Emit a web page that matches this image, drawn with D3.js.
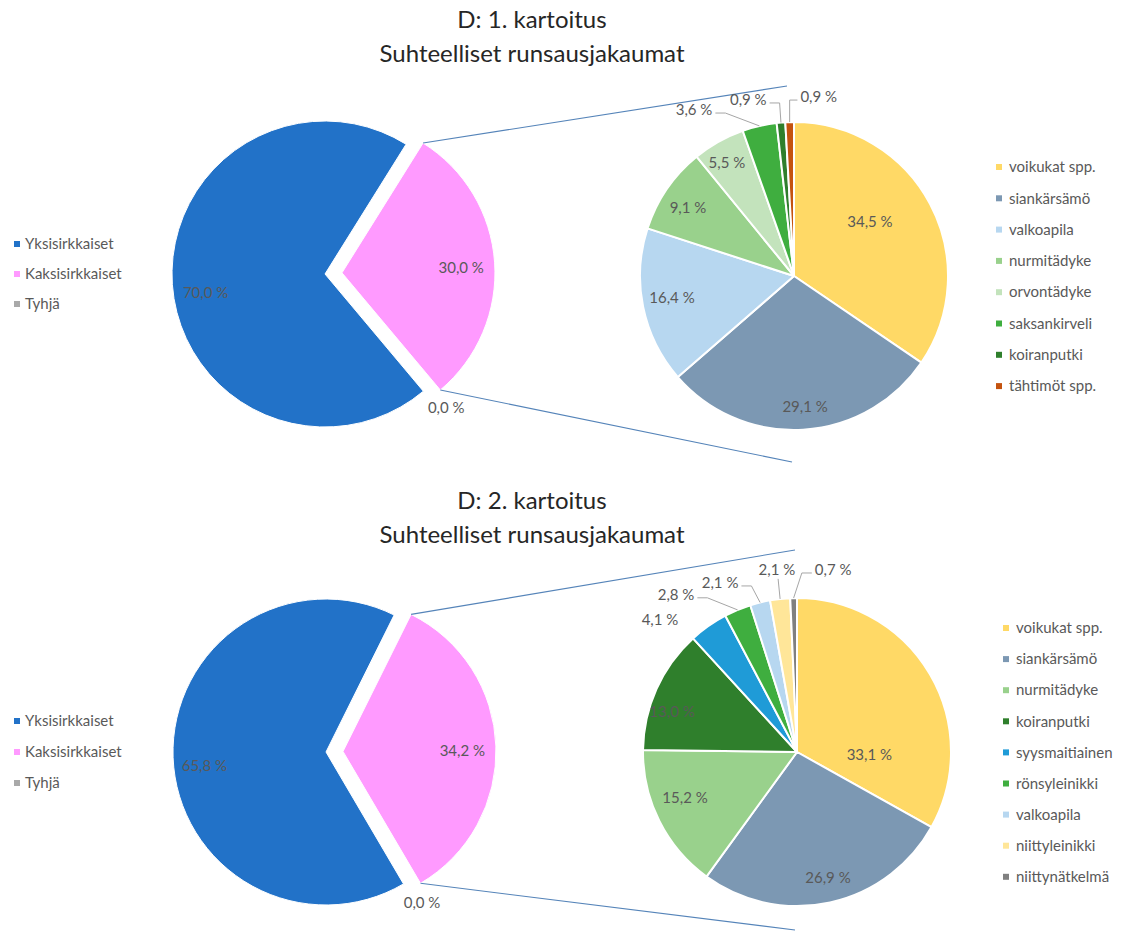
<!DOCTYPE html>
<html>
<head>
<meta charset="utf-8">
<script src="https://cdn.jsdelivr.net/npm/d3@7/dist/d3.min.js"></script>
<style>
  html, body { margin: 0; padding: 0; background: #fff; }
  svg { display: block; font-family: Lato, Carlito, "Open Sans", sans-serif; }
</style>
</head>
<body>
<svg id="chart" width="1128" height="932"></svg>
<script>
// ---- Data: D, 1. kartoitus ----
const groups1 = ["Yksisirkkaiset", "Kaksisirkkaiset", "Tyhjä"];
const groupShare1 = [70.0, 30.0, 0.0];
const species1 = ["voikukat spp.", "siankärsämö", "valkoapila", "nurmitädyke",
                  "orvontädyke", "saksankirveli", "koiranputki", "tähtimöt spp."];
const speciesShare1 = [34.5, 29.1, 16.4, 9.1, 5.5, 3.6, 0.9, 0.9];

// ---- Data: D, 2. kartoitus ----
const groups2 = ["Yksisirkkaiset", "Kaksisirkkaiset", "Tyhjä"];
const groupShare2 = [65.8, 34.2, 0.0];
const species2 = ["voikukat spp.", "siankärsämö", "nurmitädyke", "koiranputki",
                  "syysmaitiainen", "rönsyleinikki", "valkoapila", "niittyleinikki", "niittynätkelmä"];
const speciesShare2 = [33.1, 26.9, 15.2, 13.0, 4.1, 2.8, 2.1, 2.1, 0.7];

const titleLines = ["Suhteelliset runsausjakaumat"];

// ---- Colours ----
const groupColor = {
  "Yksisirkkaiset": "#2272c8",
  "Kaksisirkkaiset": "#ff9aff",
  "Tyhjä": "#a9a9a9"
};
const speciesColor = {
  "voikukat spp.": "#ffd966",
  "siankärsämö": "#7c98b3",
  "valkoapila": "#b7d7f0",
  "nurmitädyke": "#99d18c",
  "orvontädyke": "#c3e3bc",
  "saksankirveli": "#3fae3f",
  "koiranputki": "#2f7f2c",
  "tähtimöt spp.": "#c4530f",
  "syysmaitiainen": "#1f9bd7",
  "rönsyleinikki": "#3fae3f",
  "niittyleinikki": "#ffe699",
  "niittynätkelmä": "#808080"
};

const TEXT = "#595959";
const FS = 15;
const deg = Math.PI / 180;
const fmt = v => v.toFixed(1).replace(".", ",") + " %";

// Label placement per slice: radius factor and angular shift (degrees) from the slice middle
const panels = [
  {
    title: "D: 1. kartoitus", titleY: 20,
    groups: groups1, groupShare: groupShare1,
    species: species1, speciesShare: speciesShare1,
    main: { cx: 325, cy: 274, r: 153, bisector: 86, explode: 17,
            label: { "Yksisirkkaiset": [0.79, -5], "Kaksisirkkaiset": [0.78, 1.6], "Tyhjä": [1.18, -2.2] } },
    sub: { cx: 794, cy: 276, r: 154,
           label: [[0.605, -7.5], [0.854, -1.4], [0.805, 1.3], [0.818, -1.7], [0.853, -1.4],
                   [1.258, -18.1], [1.181, -9.7], [1.173, 9.5]],
           leader: [false, false, false, false, false, true, true, true] },
    connTop: [-7, -190], connBottom: [-2, 186],
    legendMain: { x: 17, y: 244, step: 30 },
    legendSub: { x: 999, y: 167, step: 31.3 }
  },
  {
    title: "D: 2. kartoitus", titleY: 501,
    groups: groups2, groupShare: groupShare2,
    species: species2, speciesShare: speciesShare2,
    main: { cx: 326, cy: 752, r: 153, bisector: 88, explode: 17,
            label: { "Yksisirkkaiset": [0.8, -4.6], "Kaksisirkkaiset": [0.78, 1.5], "Tyhjä": [1.17, -2] } },
    sub: { cx: 797, cy: 752, r: 154,
           label: [[0.47, 32.8], [0.843, -1.4], [0.786, 4.3], [0.852, -6.4], [1.235, -11],
                   [1.288, -14.9], [1.206, -10.6], [1.19, 0], [1.205, 12.5]],
           leader: [false, false, false, false, false, true, true, true, true] },
    connTop: [-2, -202], connBottom: [-2, 178],
    legendMain: { x: 17, y: 721, step: 31 },
    legendSub: { x: 1006, y: 628, step: 31.1 }
  }
];

const svg = d3.select("#chart");
const polar = (a, r) => [Math.sin(a * deg) * r, -Math.cos(a * deg) * r];

function drawPanel(p) {
  const g = svg.append("g");

  // Title
  g.append("text").attr("x", 532).attr("y", p.titleY).attr("dy", "0.35em")
    .attr("text-anchor", "middle").attr("font-size", 24).attr("fill", "#262626")
    .text(p.title);
  g.append("text").attr("x", 532).attr("y", p.titleY + 34).attr("dy", "0.35em")
    .attr("text-anchor", "middle").attr("font-size", 24).attr("fill", "#262626")
    .text(titleLines[0]);

  // ---- Primary pie: split slice (Kaksisirkkaiset) faces the secondary pie ----
  const m = p.main;
  const splitIdx = 1;
  const splitDeg = p.groupShare[splitIdx] * 3.6;
  const startDeg = m.bisector - splitDeg / 2;
  const order = [1, 2, 0];
  const mainPie = d3.pie().sort((a, b) => order.indexOf(a.i) - order.indexOf(b.i))
    .value(d => d.v).startAngle(startDeg * deg).endAngle((startDeg + 360) * deg);
  const mainData = mainPie(p.groups.map((name, i) => ({ name, i, v: p.groupShare[i] })));
  const mainArc = d3.arc().innerRadius(0).outerRadius(m.r);

  const offset = polar(m.bisector, m.explode);
  const centerOf = d => d.data.i === splitIdx ? [m.cx + offset[0], m.cy + offset[1]] : [m.cx, m.cy];

  g.append("g").selectAll("path").data(mainData.filter(d => d.data.v > 0)).join("path")
    .attr("transform", d => `translate(${centerOf(d)})`)
    .attr("d", mainArc)
    .attr("fill", d => groupColor[d.data.name])
    .attr("stroke", "#fff").attr("stroke-width", 1);

  mainData.forEach(d => {
    const mid = (d.startAngle + d.endAngle) / 2 / deg;
    const [k, shift] = m.label[d.data.name];
    const c = centerOf(d);
    const [dx, dy] = polar(mid + shift, k * m.r);
    g.append("text").attr("x", c[0] + dx).attr("y", c[1] + dy).attr("dy", "0.35em")
      .attr("text-anchor", "middle").attr("font-size", FS)
      .attr("fill", TEXT)
      .text(fmt(d.data.v));
  });

  // ---- Connector lines from the split slice to the secondary pie ----
  const s = p.sub;
  const split = mainData.find(d => d.data.i === splitIdx);
  const sc = centerOf(split);
  const cTop = polar(split.startAngle / deg, m.r);
  const cBot = polar(split.endAngle / deg, m.r);
  const conn = [
    [[sc[0] + cTop[0], sc[1] + cTop[1]], [s.cx + p.connTop[0], s.cy + p.connTop[1]]],
    [[sc[0] + cBot[0], sc[1] + cBot[1]], [s.cx + p.connBottom[0], s.cy + p.connBottom[1]]]
  ];
  g.append("g").selectAll("line").data(conn).join("line")
    .attr("x1", d => d[0][0]).attr("y1", d => d[0][1])
    .attr("x2", d => d[1][0]).attr("y2", d => d[1][1])
    .attr("stroke", "#5584b9").attr("stroke-width", 1.1);

  // ---- Secondary pie: species composition ----
  const subPie = d3.pie().sort(null).value(d => d.v);
  const subData = subPie(p.species.map((name, i) => ({ name, i, v: p.speciesShare[i] })));
  const subArc = d3.arc().innerRadius(0).outerRadius(s.r);

  g.append("g").attr("transform", `translate(${s.cx},${s.cy})`)
    .selectAll("path").data(subData).join("path")
    .attr("d", subArc)
    .attr("fill", d => speciesColor[d.data.name])
    .attr("stroke", "#fff").attr("stroke-width", 2).attr("stroke-linejoin", "round");

  const labelG = g.append("g").attr("transform", `translate(${s.cx},${s.cy})`);
  const leaderG = labelG.append("g");
  subData.forEach((d, i) => {
    const mid = (d.startAngle + d.endAngle) / 2 / deg;
    const [k, shift] = s.label[i];
    const [tx, ty] = polar(mid + shift, k * s.r);
    const t = labelG.append("text").attr("x", tx).attr("y", ty).attr("dy", "0.35em")
      .attr("text-anchor", "middle").attr("font-size", FS)
      .attr("fill", TEXT)
      .text(fmt(d.data.v));
    if (s.leader[i]) {
      const w = t.node().getComputedTextLength();
      const left = tx - w / 2, right = tx + w / 2;
      const edge = polar(mid, s.r);
      let pts;
      if (edge[0] > right + 2) {
        const ax = right + 3, ay = ty + 3;
        pts = [[ax, ay], [ax + Math.min(10, edge[0] - ax), ay], edge];
      } else if (edge[0] < left - 2) {
        const ax = left - 3, ay = ty + 3;
        pts = [[ax, ay], [ax - Math.min(10, ax - edge[0]), ay], edge];
      } else {
        pts = [[edge[0] - 2, ty + 9], edge];
      }
      leaderG.append("path").attr("d", d3.line()(pts))
        .attr("fill", "none").attr("stroke", "#a6a6a6").attr("stroke-width", 1);
    }
  });

  // ---- Legends ----
  const lm = p.legendMain;
  const lgm = g.append("g").selectAll("g").data(p.groups).join("g")
    .attr("transform", (d, i) => `translate(${lm.x},${lm.y + i * lm.step})`);
  lgm.append("rect").attr("x", -3).attr("y", -3).attr("width", 6).attr("height", 6)
    .attr("fill", d => groupColor[d]);
  lgm.append("text").attr("x", 8).attr("dy", "0.35em").attr("font-size", FS)
    .attr("fill", TEXT).text(d => d);

  const ls = p.legendSub;
  const lgs = g.append("g").selectAll("g").data(p.species).join("g")
    .attr("transform", (d, i) => `translate(${ls.x},${ls.y + i * ls.step})`);
  lgs.append("rect").attr("x", -3).attr("y", -3).attr("width", 6).attr("height", 6)
    .attr("fill", d => speciesColor[d]);
  lgs.append("text").attr("x", 10).attr("dy", "0.35em").attr("font-size", FS)
    .attr("fill", TEXT).text(d => d);
}

panels.forEach(drawPanel);
</script>
</body>
</html>
